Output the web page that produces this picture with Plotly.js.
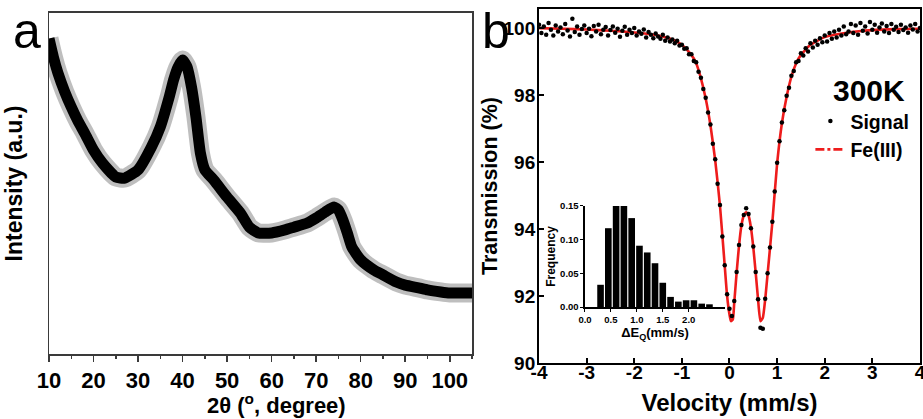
<!DOCTYPE html>
<html><head><meta charset="utf-8">
<script src="https://cdn.plot.ly/plotly-3.0.1.min.js"></script>
<style>html,body{margin:0;padding:0;background:#fff}#chart{width:923px;height:419px}</style>
</head><body><div id="chart"></div>
<script>
// ---- Panel a: XRD pattern (band centre) ----
const xrdAngle = [10,11,12,13.5,15,16.5,18,20,22,25,27,30,33,35,37,38,39,40,41,42,43,44,45,47,50,53,55,57,60,63,65,68,70,72,74,75,76,77,78,80,83,85,88,90,93,95,98,100,103,105];
const xrdIntensity = [92.5,87.0,82.4,77.0,72.4,68.3,64.8,59.8,56.0,51.9,51.6,54.0,60.7,66.6,75.4,80.5,84.2,86.2,84.2,78.3,69.5,58.9,54.0,51.0,46.0,41.3,37.2,35.5,35.5,36.4,37.2,38.4,39.9,41.6,43.1,42.2,39.3,35.5,31.4,27.6,24.6,23.2,21.1,20.2,19.4,18.8,18.2,17.9,17.9,17.9];
const xrdTickVals = [10,20,30,40,50,60,70,80,90,100];
const xrdTickText = ["10","20","30","40","50","60","70","80","90","100"];

// ---- Panel b: Mossbauer spectrum ----
const velocity = [-4.00,-3.95,-3.90,-3.85,-3.80,-3.75,-3.70,-3.65,-3.60,-3.55,-3.50,-3.45,-3.40,-3.35,-3.30,-3.25,-3.20,-3.15,-3.10,-3.05,-3.00,-2.95,-2.90,-2.85,-2.80,-2.75,-2.70,-2.65,-2.60,-2.55,-2.50,-2.45,-2.40,-2.35,-2.30,-2.25,-2.20,-2.15,-2.10,-2.05,-2.00,-1.95,-1.90,-1.85,-1.80,-1.75,-1.70,-1.65,-1.60,-1.55,-1.50,-1.45,-1.40,-1.35,-1.30,-1.25,-1.20,-1.15,-1.10,-1.05,-1.00,-0.95,-0.90,-0.85,-0.80,-0.75,-0.70,-0.65,-0.60,-0.55,-0.50,-0.45,-0.40,-0.35,-0.30,-0.25,-0.20,-0.15,-0.10,-0.05,0.00,0.05,0.10,0.15,0.20,0.25,0.30,0.35,0.40,0.45,0.50,0.55,0.60,0.65,0.70,0.75,0.80,0.85,0.90,0.95,1.00,1.05,1.10,1.15,1.20,1.25,1.30,1.35,1.40,1.45,1.50,1.55,1.60,1.65,1.70,1.75,1.80,1.85,1.90,1.95,2.00,2.05,2.10,2.15,2.20,2.25,2.30,2.35,2.40,2.45,2.50,2.55,2.60,2.65,2.70,2.75,2.80,2.85,2.90,2.95,3.00,3.05,3.10,3.15,3.20,3.25,3.30,3.35,3.40,3.45,3.50,3.55,3.60,3.65,3.70,3.75,3.80,3.85,3.90,3.95,4.00];
const signalT = [100.10,99.85,100.05,99.80,100.15,99.95,99.78,100.08,99.90,100.02,
99.82,100.12,99.93,99.75,100.28,99.88,100.05,99.80,99.97,100.08,
99.85,99.98,99.76,100.06,99.90,100.10,99.82,99.95,100.03,99.78,
99.94,100.05,99.86,99.98,99.74,99.92,100.04,99.80,99.95,99.85,
100.00,99.78,99.90,99.83,99.96,99.72,99.88,99.80,99.70,99.84,
99.75,99.68,99.80,99.62,99.72,99.60,99.66,99.55,99.62,99.48,
99.50,99.38,99.40,99.22,99.22,99.02,98.98,98.70,98.52,98.18,
97.92,97.48,97.12,96.55,96.08,95.35,94.72,93.78,92.92,92.05,
91.62,91.40,91.85,92.72,93.52,94.12,94.42,94.62,94.45,94.02,
93.48,92.72,91.90,91.05,91.02,91.92,92.68,93.45,94.22,95.12,
95.98,96.62,97.18,97.55,97.98,98.22,98.58,98.72,98.98,99.02,
99.25,99.18,99.40,99.30,99.55,99.42,99.62,99.50,99.70,99.58,
99.78,99.60,99.85,99.68,99.90,99.72,99.95,99.78,100.05,99.82,
99.90,100.12,99.85,100.08,99.80,100.15,99.92,100.05,99.84,100.18,
99.95,100.10,99.86,100.02,100.14,99.90,100.06,99.85,100.12,99.95,
100.04,99.88,100.10,99.94,100.02,99.86,100.08,99.96,100.12,99.90,
100.00];
const fitVelocity = [-4,-3.5,-3,-2.5,-2,-1.5,-1.2,-1.0,-0.8,-0.7,-0.6,-0.5,-0.4,-0.3,-0.2,-0.1,-0.05,0.0,0.03,0.07,0.1,0.15,0.2,0.25,0.3,0.35,0.4,0.45,0.5,0.55,0.6,0.65,0.7,0.75,0.8,0.9,1.0,1.1,1.2,1.3,1.4,1.5,1.7,2.0,2.5,3.0,3.5,4.0];
const fitT = [100.0,99.98,99.96,99.92,99.87,99.78,99.66,99.5,99.2,98.95,98.5,97.9,97.1,96.05,94.7,92.9,92.0,91.45,91.25,91.3,91.8,92.7,93.5,94.1,94.4,94.5,94.4,94.05,93.45,92.7,91.9,91.25,91.35,91.9,92.65,94.2,95.95,97.15,97.95,98.55,98.95,99.2,99.5,99.73,99.87,99.94,99.97,99.98];
const velTickVals = [-4,-3,-2,-1,0,1,2,3,4];
const velTickText = ["-4","-3","-2","-1","0","1","2","3","4"];
const transTickVals = [90,92,94,96,98,100];
const transTickText = ["90","92","94","96","98","100"];

// ---- Inset: quadrupole splitting distribution ----
const qsCenters = [0.3,0.45,0.6,0.75,0.9,1.05,1.2,1.35,1.5,1.65,1.8,1.95,2.1,2.25,2.4];
const qsFreq = [0.033,0.117,0.15,0.15,0.132,0.091,0.081,0.065,0.036,0.015,0.008,0.010,0.010,0.005,0.004];
const qsTickVals = [0,0.5,1.0,1.5,2.0];
const qsTickText = ["0.0","0.5","1.0","1.5","2.0"];
const freqTickVals = [0,0.05,0.10,0.15];
const freqTickText = ["0.00","0.05","0.10","0.15"];

const FONT = "Liberation Sans, Arial, Helvetica, sans-serif";
const bold = (s) => ({family: FONT, size: s, color: "#000", weight: "bold"});

const traces = [
  {x: xrdAngle, y: xrdIntensity, xaxis: "x", yaxis: "y", type: "scatter", mode: "lines",
   line: {color: "rgba(70,70,70,0.35)", width: 19, shape: "spline", smoothing: 0.5}, showlegend: false, hoverinfo: "skip"},
  {x: xrdAngle, y: xrdIntensity, xaxis: "x", yaxis: "y", type: "scatter", mode: "lines",
   line: {color: "#000", width: 11, shape: "spline", smoothing: 0.5}, showlegend: false},
  {x: fitVelocity, y: fitT, xaxis: "x2", yaxis: "y2", type: "scatter", mode: "lines",
   line: {color: "#ee1c1c", width: 2.6, shape: "spline", smoothing: 0.5}, showlegend: false},
  {x: velocity, y: signalT, xaxis: "x2", yaxis: "y2", type: "scatter", mode: "markers",
   name: "Signal", marker: {color: "#000", size: 4.5}},
  {x: [null], y: [null], xaxis: "x2", yaxis: "y2", type: "scatter", mode: "lines",
   name: "Fe(III)", line: {color: "#ee1c1c", width: 2.6, dash: "dashdot"}},
  {x: qsCenters, y: qsFreq, xaxis: "x3", yaxis: "y3", type: "bar",
   marker: {color: "#000", line: {width: 0}}, showlegend: false}
];

const layout = {
  width: 923, height: 419,
  margin: {l: 0, r: 0, t: 0, b: 0},
  paper_bgcolor: "#fff", plot_bgcolor: "rgba(0,0,0,0)",
  font: {family: FONT, color: "#000"},
  bargap: 0.15,
  xaxis: {domain: [0.0531, 0.5114], anchor: "y", range: [10, 105], showgrid: false, zeroline: false,
    showline: true, mirror: true, linecolor: "#3a3a3a", linewidth: 1.5,
    ticks: "outside", ticklen: 6, tickwidth: 1.5, tickcolor: "#3a3a3a",
    tickmode: "array", tickvals: xrdTickVals, ticktext: xrdTickText, tickfont: bold(22),
    minor: {dtick: 5, tick0: 0, ticks: "outside", ticklen: 3, tickwidth: 1.5, tickcolor: "#3a3a3a"}},
  yaxis: {domain: [0.1551, 0.969], anchor: "x", range: [0, 100], showgrid: false, zeroline: false,
    showline: true, mirror: true, linecolor: "#3a3a3a", linewidth: 1.5,
    ticks: "", showticklabels: false,
    title: {text: "Intensity (a.u.)", font: bold(23), standoff: 18}},
  xaxis2: {domain: [0.584, 0.9967], anchor: "y2", range: [-4, 4], showgrid: false, zeroline: false,
    showline: true, mirror: true, linecolor: "#000", linewidth: 2,
    ticks: "inside", ticklen: 5, tickwidth: 2, tickcolor: "#000",
    tickmode: "array", tickvals: velTickVals, ticktext: velTickText, tickfont: bold(19),
    ticklabelstandoff: -9, ticklabeloverflow: "allow",
    title: {text: "Velocity (mm/s)", font: bold(24), standoff: 12}},
  yaxis2: {domain: [0.1337, 0.9785], anchor: "x2", range: [90, 100.57], showgrid: false, zeroline: false,
    showline: true, mirror: true, linecolor: "#000", linewidth: 2,
    ticks: "inside", ticklen: 5, tickwidth: 2, tickcolor: "#000",
    tickmode: "array", tickvals: transTickVals, ticktext: transTickText, tickfont: bold(19),
    ticklabelstandoff: -2,
    title: {text: "Transmission (%)", font: bold(21.5), standoff: 0}},
  xaxis3: {domain: [0.6338, 0.7855], anchor: "y3", range: [0, 2.7], showgrid: false, zeroline: false,
    showline: true, linecolor: "#000", linewidth: 1.5,
    ticks: "outside", ticklen: 3, tickwidth: 1, tickcolor: "#000",
    tickmode: "array", tickvals: qsTickVals, ticktext: qsTickText, tickfont: bold(9.5),
    title: {text: "ΔE<sub>Q</sub>(mm/s)", font: bold(13), standoff: 2}},
  yaxis3: {domain: [0.2673, 0.5084], anchor: "x3", range: [0, 0.15], showgrid: false, zeroline: false,
    showline: true, linecolor: "#000", linewidth: 1.5,
    ticks: "outside", ticklen: 3, tickwidth: 1, tickcolor: "#000",
    tickmode: "array", tickvals: freqTickVals, ticktext: freqTickText, tickfont: bold(9.5),
    title: {text: "Frequency", font: bold(12), standoff: 2}},
  legend: {x: 0.878, xanchor: "left", y: 0.757, yanchor: "top", font: bold(19.5),
    bgcolor: "rgba(0,0,0,0)", borderwidth: 0, tracegroupgap: 0, itemwidth: 30},
  annotations: [
    {text: "2θ (<sup>o</sup>, degree)", xref: "paper", yref: "paper", x: 276/923, y: 0,
     xanchor: "center", yanchor: "bottom", showarrow: false, font: bold(22), borderpad: 0},
    {text: "a", xref: "paper", yref: "paper", x: 27/923, y: 0.926, xanchor: "center", yanchor: "middle",
     showarrow: false, font: {family: FONT, size: 50, color: "#000"}},
    {text: "b", xref: "paper", yref: "paper", x: 496/923, y: 0.926, xanchor: "center", yanchor: "middle",
     showarrow: false, font: {family: FONT, size: 50, color: "#000"}},
    {text: "300K", xref: "paper", yref: "paper", x: 869/923, y: (419-91)/419, xanchor: "center", yanchor: "middle",
     showarrow: false, font: bold(30)}
  ]
};

Plotly.newPlot("chart", traces, layout, {displayModeBar: false, staticPlot: true});
</script></body></html>
